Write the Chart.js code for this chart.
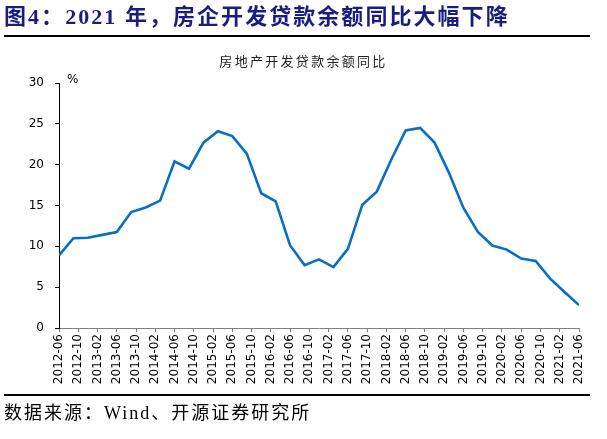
<!DOCTYPE html>
<html>
<head>
<meta charset="utf-8">
<script src="https://cdn.jsdelivr.net/npm/chart.js@4.4.1/dist/chart.umd.min.js"></script>
<style>
  html, body { margin: 0; padding: 0; background: #fff; }
  #wrap { position: relative; width: 607px; height: 439px; overflow: hidden; background: #fff; }
  #c { position: absolute; left: 0; top: 0; }
  .t { position: absolute; white-space: nowrap; }
  #title { left: 4px; top: 3px; font: bold 22px "Liberation Serif", "Noto Sans CJK SC", serif; color: #1c1c80; letter-spacing: 2.05px; line-height: 28px; }
  #rule1 { position: absolute; left: 4px; top: 35px; width: 586px; height: 2px; background: #000; }
  #subtitle { left: 0; width: 607px; text-align: center; top: 52px; font: 13px "Noto Sans CJK SC", sans-serif; color: #222; letter-spacing: 2.3px; line-height: 18px; }
  #pct { left: 67px; top: 72px; font: 12px "DejaVu Sans", sans-serif; color: #000; line-height: 14px; }
  #rule2 { position: absolute; left: 4px; top: 394px; width: 586px; height: 2px; background: #000; }
  #source { left: 4px; top: 402px; font: 18px "Liberation Serif", "Noto Sans CJK SC", serif; color: #000; letter-spacing: 2px; line-height: 22px; }
</style>
</head>
<body>
<div id="wrap">
  <canvas id="c" width="607" height="439"></canvas>
  <div class="t" id="title">图4：2021 年，房企开发贷款余额同比大幅下降</div>
  <div id="rule1"></div>
  <div class="t" id="subtitle">房地产开发贷款余额同比</div>
  <div class="t" id="pct">%</div>
  <div id="rule2"></div>
  <div class="t" id="source">数据来源：Wind、开源证券研究所</div>
</div>
<script>
// quarterly observation dates
const dates = [
  '2012-06','2012-09','2012-12','2013-03','2013-06','2013-09','2013-12','2014-03','2014-06','2014-09',
  '2014-12','2015-03','2015-06','2015-09','2015-12','2016-03','2016-06','2016-09','2016-12','2017-03',
  '2017-06','2017-09','2017-12','2018-03','2018-06','2018-09','2018-12','2019-03','2019-06','2019-09',
  '2019-12','2020-03','2020-06','2020-09','2020-12','2021-03','2021-06'
];
// 房地产开发贷款余额同比 (%)
const loanYoY = [
  8.9, 11.0, 11.05, 11.4, 11.75, 14.2, 14.75, 15.6, 20.4, 19.5,
  22.7, 24.1, 23.5, 21.35, 16.5, 15.5, 10.1, 7.7, 8.4, 7.45,
  9.7, 15.1, 16.7, 20.6, 24.2, 24.5, 22.7, 19.0, 14.7, 11.75,
  10.1, 9.6, 8.5, 8.2, 6.05, 4.4, 2.8
];
// x-axis tick labels
const tickLabels = [
  '2012-06','2012-10','2013-02','2013-06','2013-10','2014-02','2014-06','2014-10','2015-02','2015-06',
  '2015-10','2016-02','2016-06','2016-10','2017-02','2017-06','2017-10','2018-02','2018-06','2018-10',
  '2019-02','2019-06','2019-10','2020-02','2020-06','2020-10','2021-02','2021-06'
];
const yTicks = [0, 5, 10, 15, 20, 25, 30];

const base = dates[0];
function monthIndex(s) {
  const [y, m] = s.split('-').map(Number);
  const [by, bm] = base.split('-').map(Number);
  return (y - by) * 12 + (m - bm);
}
const points = dates.map((d, i) => ({ x: monthIndex(d), y: loanYoY[i] }));
const tickMap = {};
tickLabels.forEach(l => { tickMap[monthIndex(l)] = l; });

new Chart(document.getElementById('c'), {
  type: 'line',
  data: {
    datasets: [{
      label: '房地产开发贷款余额同比',
      data: points,
      borderColor: '#0a6fc2',
      borderWidth: 2.6,
      pointRadius: 0,
      tension: 0,
      fill: false
    }]
  },
  options: {
    responsive: false,
    animation: false,
    devicePixelRatio: 1,
    layout: { padding: { top: 83, right: 28, bottom: 0, left: 0 } },
    plugins: { legend: { display: false }, tooltip: { enabled: false }, title: { display: false } },
    scales: {
      x: {
        type: 'linear',
        min: monthIndex(tickLabels[0]),
        max: monthIndex(tickLabels[tickLabels.length - 1]),
        afterFit: s => { s.height = 111; },
        afterBuildTicks: s => { s.ticks = tickLabels.map(l => ({ value: monthIndex(l) })); },
        ticks: {
          autoSkip: false,
          maxRotation: 90,
          minRotation: 90,
          padding: 2,
          color: '#000',
          font: { family: 'DejaVu Sans', size: 12 },
          callback: v => tickMap[v] || ''
        },
        grid: { display: true, drawOnChartArea: false, drawTicks: true, tickLength: 4, color: '#808080', lineWidth: 1 },
        border: { display: true, color: '#808080', width: 1 }
      },
      y: {
        min: yTicks[0],
        max: yTicks[yTicks.length - 1],
        afterFit: s => { s.width = 59; },
        afterBuildTicks: s => { s.ticks = yTicks.map(v => ({ value: v })); },
        ticks: {
          padding: 11,
          color: '#000',
          font: { family: 'DejaVu Sans', size: 12 }
        },
        grid: { display: true, drawOnChartArea: false, drawTicks: true, tickLength: 4, color: '#000', lineWidth: 1 },
        border: { display: true, color: '#000', width: 1 }
      }
    }
  }
});
</script>
</body>
</html>
